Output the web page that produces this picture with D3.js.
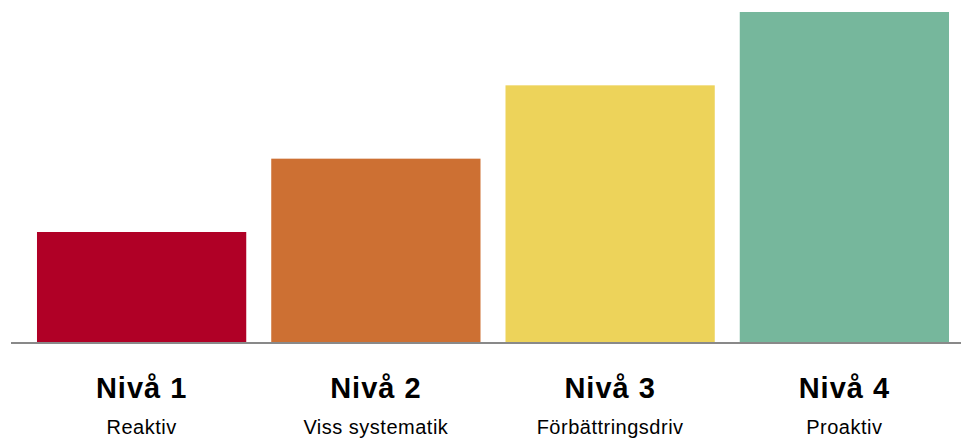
<!DOCTYPE html>
<html><head><meta charset="utf-8">
<script src="https://cdn.jsdelivr.net/npm/d3@7"></script>
<style>body{margin:0;background:#fff}svg{display:block}</style>
</head><body>
<svg id="c" width="961" height="439"></svg>
<script>
const levels = ["Nivå 1", "Nivå 2", "Nivå 3", "Nivå 4"];
const subtitles = ["Reaktiv", "Viss systematik", "Förbättringsdriv", "Proaktiv"];
const values = [1.5, 2.5, 3.5, 4.5];
const colors = ["#b00026", "#cd7033", "#edd35a", "#76b79c"];

const svg = d3.select("#c");
const baseY = 342;
const x = d3.scaleBand().domain(levels).range([24.5, 961.5]).paddingInner(0.1067).paddingOuter(0.0533);
const y = d3.scaleLinear().domain([0, 4.5]).range([baseY, 12]);

svg.selectAll("rect.bar").data(levels).join("rect")
  .attr("class", "bar")
  .attr("x", d => x(d))
  .attr("width", x.bandwidth())
  .attr("y", (d, i) => y(values[i]))
  .attr("height", (d, i) => baseY - y(values[i]))
  .attr("fill", (d, i) => colors[i]);

svg.append("line").attr("x1", 11).attr("x2", 961).attr("y1", baseY + 1).attr("y2", baseY + 1)
  .attr("stroke", "#898989").attr("stroke-width", 2);

svg.selectAll("text.lvl").data(levels).join("text")
  .attr("class", "lvl")
  .attr("x", d => x(d) + x.bandwidth() / 2)
  .attr("y", 398)
  .attr("text-anchor", "middle")
  .attr("font-family", "Liberation Sans, Arial, sans-serif")
  .attr("font-weight", "bold")
  .attr("font-size", 29)
  .attr("letter-spacing", 1)
  .attr("fill", "#000")
  .text(d => d);

svg.selectAll("text.sub").data(levels).join("text")
  .attr("class", "sub")
  .attr("x", d => x(d) + x.bandwidth() / 2)
  .attr("y", 434)
  .attr("text-anchor", "middle")
  .attr("font-family", "Liberation Sans, Arial, sans-serif")
  .attr("font-size", 20)
  .attr("letter-spacing", 0.5)
  .attr("fill", "#000")
  .text((d, i) => subtitles[i]);
</script>
</body></html>
